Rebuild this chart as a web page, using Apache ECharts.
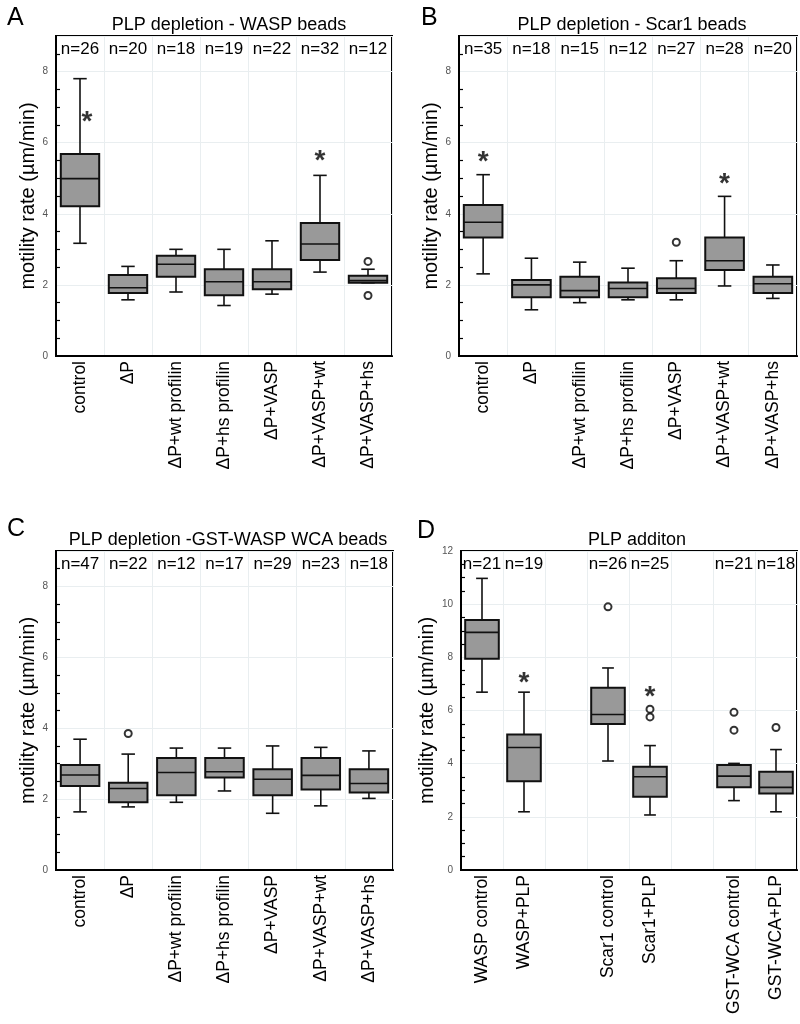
<!DOCTYPE html>
<html>
<head>
<meta charset="utf-8">
<script src="https://cdn.jsdelivr.net/npm/echarts@6/dist/echarts.min.js"></script>
<style>
html, body { margin: 0; padding: 0; background: #fff; }
#main { width: 800px; height: 1024px; }
</style>
</head>
<body>
<div id="main"></div>
<script>
// 箱线图数据: [min, Q1, median, Q3, max]
var catsABC = ['control', 'ΔP', 'ΔP+wt profilin', 'ΔP+hs profilin', 'ΔP+VASP', 'ΔP+VASP+wt', 'ΔP+VASP+hs'];

// A: PLP depletion - WASP beads
var nA = ['n=26', 'n=20', 'n=18', 'n=19', 'n=22', 'n=32', 'n=12'];
var boxA = [
	[3.17, 4.21, 4.99, 5.68, 7.80],
	[1.58, 1.77, 1.92, 2.28, 2.52],
	[1.80, 2.23, 2.58, 2.82, 3.00],
	[1.42, 1.71, 2.09, 2.44, 3.00],
	[1.74, 1.88, 2.09, 2.44, 3.24],
	[2.36, 2.70, 3.15, 3.74, 5.08],
	[2.06, 2.06, 2.12, 2.26, 2.44]
];
var outA = [[6, 2.66], [6, 1.70]];
var starA = [[0, 6.8], [5, 5.7]];

// B: PLP depletion - Scar1 beads
var nB = ['n=35', 'n=18', 'n=15', 'n=12', 'n=27', 'n=28', 'n=20'];
var boxB = [
	[2.31, 3.33, 3.76, 4.25, 5.10],
	[1.30, 1.65, 2.00, 2.14, 2.75],
	[1.50, 1.65, 1.84, 2.23, 2.64],
	[1.58, 1.65, 1.90, 2.07, 2.47],
	[1.58, 1.77, 1.90, 2.19, 2.68],
	[1.97, 2.42, 2.68, 3.33, 4.49],
	[1.62, 1.77, 2.03, 2.23, 2.56]
];
var outB = [[4, 3.20]];
var starB = [[0, 5.66], [5, 5.05]];

// C: PLP depletion -GST-WASP WCA beads
var nC = ['n=47', 'n=22', 'n=12', 'n=17', 'n=29', 'n=23', 'n=18'];
var boxC = [
	[1.64, 2.37, 2.68, 2.96, 3.69],
	[1.78, 1.91, 2.30, 2.46, 3.27],
	[1.91, 2.11, 2.75, 3.16, 3.44],
	[2.23, 2.61, 2.77, 3.16, 3.44],
	[1.60, 2.11, 2.56, 2.84, 3.50],
	[1.81, 2.27, 2.67, 3.16, 3.46],
	[2.02, 2.19, 2.44, 2.84, 3.36]
];
var outC = [[1, 3.85]];
var starC = [];

// D: PLP additon
var catsD = ['WASP control', 'WASP+PLP', '', 'Scar1 control', 'Scar1+PLP', '', 'GST-WCA control', 'GST-WCA+PLP'];
var nD = ['n=21', 'n=19', '', 'n=26', 'n=25', '', 'n=21', 'n=18'];
var boxD = [
	[6.69, 7.95, 8.94, 9.40, 10.97],
	[2.19, 3.34, 4.61, 5.10, 6.69],
	null,
	[4.10, 5.49, 5.85, 6.86, 7.60],
	[2.07, 2.76, 3.51, 3.88, 4.68],
	null,
	[2.61, 3.11, 3.53, 3.95, 4.01],
	[2.19, 2.88, 3.11, 3.70, 4.53]
];
var outD = [[3, 9.90], [4, 6.05], [4, 5.76], [6, 5.93], [6, 5.26], [7, 5.36]];
var starD = [[1, 7.33], [4, 6.79]];

var font = 'Liberation Sans, Arial, Helvetica, sans-serif';

var panels = [
	{ letter: 'A', title: 'PLP depletion - WASP beads', cats: catsABC, n: nA, box: boxA, out: outA, star: starA, max: 9,
		grid: { left: 56, top: 36, width: 336, height: 320 }, tx: 224, ty: 11, lx: 2, ly: 1 },
	{ letter: 'B', title: 'PLP depletion - Scar1 beads', cats: catsABC, n: nB, box: boxB, out: outB, star: starB, max: 9,
		grid: { left: 459, top: 36, width: 338, height: 320 }, tx: 627, ty: 11, lx: 416, ly: 1 },
	{ letter: 'C', title: 'PLP depletion -GST-WASP WCA beads', cats: catsABC, n: nC, box: boxC, out: outC, star: starC, max: 9,
		grid: { left: 56, top: 551, width: 337, height: 319 }, tx: 223, ty: 526, lx: 2, ly: 512 },
	{ letter: 'D', title: 'PLP additon', cats: catsD, n: nD, box: boxD, out: outD, star: starD, max: 12,
		grid: { left: 461, top: 551, width: 336, height: 319 }, tx: 632, ty: 526, lx: 412, ly: 514 }
];

function renderBox(params, api) {
	var x = api.value(0);
	var lo = api.coord([x, api.value(1)]);
	var q1 = api.coord([x, api.value(2)]);
	var md = api.coord([x, api.value(3)]);
	var q3 = api.coord([x, api.value(4)]);
	var hi = api.coord([x, api.value(5)]);
	var band = api.size([1, 0])[0];
	var bw = band * 0.4, cw = band * 0.14;
	var cx = lo[0];
	var ls = { stroke: '#111', lineWidth: 1.6 };
	return {
		type: 'group',
		children: [
			{ type: 'line', shape: { x1: cx, y1: hi[1], x2: cx, y2: q3[1] }, style: ls },
			{ type: 'line', shape: { x1: cx, y1: q1[1], x2: cx, y2: lo[1] }, style: ls },
			{ type: 'line', shape: { x1: cx - cw, y1: hi[1], x2: cx + cw, y2: hi[1] }, style: ls },
			{ type: 'line', shape: { x1: cx - cw, y1: lo[1], x2: cx + cw, y2: lo[1] }, style: ls },
			{ type: 'rect', shape: { x: cx - bw, y: q3[1], width: bw * 2, height: q1[1] - q3[1] },
				style: { fill: '#999999', stroke: '#111', lineWidth: 2 } },
			{ type: 'line', shape: { x1: cx - bw, y1: md[1], x2: cx + bw, y2: md[1] }, style: ls }
		]
	};
}

var option = { animation: false, backgroundColor: '#fff', title: [], grid: [], xAxis: [], yAxis: [], series: [] };

panels.forEach(function (p, i) {
	option.title.push({ text: p.letter, left: p.lx, top: p.ly,
		textStyle: { fontFamily: font, fontSize: 25, fontWeight: 'normal', color: '#000' } });
	option.title.push({ text: p.title, left: p.tx, top: p.ty, textAlign: 'center',
		textStyle: { fontFamily: font, fontSize: 18, fontWeight: 'normal', color: '#000' } });
	option.grid.push({ left: p.grid.left, top: p.grid.top, width: p.grid.width, height: p.grid.height,
		show: true, borderColor: '#000', borderWidth: 2 });
	option.xAxis.push({
		type: 'category', gridIndex: i, data: p.cats, position: 'bottom',
		axisLine: { lineStyle: { color: '#000', width: 2 } },
		axisTick: { inside: true, length: 6, lineStyle: { color: '#000', width: 1.5 } },
		axisLabel: { rotate: 90, interval: 0, margin: 5, fontSize: 17.5, color: '#000', fontFamily: font },
		splitLine: { show: true, interval: 0, lineStyle: { color: '#e9eef0', width: 1 } }
	});
	option.xAxis.push({
		type: 'category', gridIndex: i, data: p.n, position: 'top',
		axisLine: { show: false }, axisTick: { show: false },
		axisLabel: { inside: true, interval: 0, margin: 5, fontSize: 17, color: '#000', fontFamily: font },
		splitLine: { show: false }
	});
	option.yAxis.push({
		type: 'value', gridIndex: i, min: 0, max: p.max, interval: 2,
		name: 'motility rate (µm/min)', nameLocation: 'middle', nameGap: 14,
		nameTextStyle: { fontFamily: font, fontSize: 20, color: '#000' },
		axisLine: { show: true, lineStyle: { color: '#000', width: 2 } },
		axisTick: { inside: true, length: 5, lineStyle: { color: '#000', width: 1.2 } },
		minorTick: { show: true, splitNumber: 4, length: 4, lineStyle: { color: '#000', width: 1.2 } },
		axisLabel: { margin: 8, fontSize: 10, color: '#555', fontFamily: font, showMaxLabel: p.max === 12 },
		splitLine: { show: true, lineStyle: { color: '#e9eef0', width: 1 } }
	});

	var boxData = [];
	p.box.forEach(function (b, k) { if (b) boxData.push([k].concat(b)); });
	option.series.push({
		type: 'custom', xAxisIndex: 2 * i, yAxisIndex: i, renderItem: renderBox,
		encode: { x: 0, y: [1, 2, 3, 4, 5] }, data: boxData, z: 3
	});
	option.series.push({
		type: 'scatter', xAxisIndex: 2 * i, yAxisIndex: i, data: p.out, symbol: 'circle', symbolSize: 7,
		itemStyle: { color: '#fff', borderColor: '#000', borderWidth: 2 }, z: 4
	});
	option.series.push({
		type: 'scatter', xAxisIndex: 2 * i, yAxisIndex: i, symbol: 'circle', symbolSize: 1,
		itemStyle: { color: 'rgba(0,0,0,0)' }, z: 5,
		data: p.star.map(function (s) {
			var b = p.box[s[0]];
			var shift = (b && s[1] < b[4]) ? 7 : 0;
			return { value: s, label: { offset: [shift, 8] } };
		}),
		label: { show: true, position: 'inside', formatter: '*', fontSize: 28, fontWeight: 'bold', color: '#000', fontFamily: font }
	});
});

var myChart = echarts.init(document.getElementById('main'));
myChart.setOption(option);
</script>
</body>
</html>
